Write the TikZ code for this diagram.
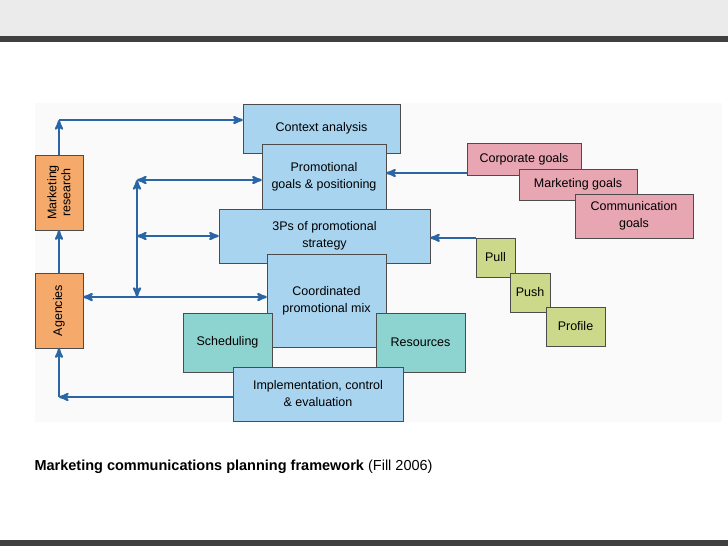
\documentclass[tikz,border=0pt]{standalone}
\usepackage{fontspec}
\setmainfont{Liberation Sans}
\usepackage{xcolor}
\usepackage{tikz}
\usetikzlibrary{arrows}
\definecolor{arrblue}{HTML}{2A66A6}
\definecolor{boxblue}{HTML}{A8D4F0}
\definecolor{boxorange}{HTML}{F5A96A}
\definecolor{boxteal}{HTML}{8DD3CF}
\definecolor{boxpink}{HTML}{E8A6B2}
\definecolor{boxgreen}{HTML}{CDD98A}
\tikzstyle{blk_b} = [rectangle, draw=black!70, fill=boxblue, align=center, inner sep=0pt, font=\fontsize{12.5}{17}\selectfont]
\tikzstyle{blk_o} = [rectangle, draw=black!70, fill=boxorange, align=center, inner sep=0pt, font=\fontsize{12.5}{14}\selectfont, rotate=90]
\tikzstyle{blk_t} = [rectangle, draw=black!70, fill=boxteal, align=center, inner sep=0pt, font=\fontsize{12.5}{17}\selectfont]
\tikzstyle{blk_p} = [rectangle, draw=black!70, fill=boxpink, align=center, inner sep=0pt, font=\fontsize{12.5}{17}\selectfont]
\tikzstyle{blk_g} = [rectangle, draw=black!70, fill=boxgreen, align=center, inner sep=0pt, font=\fontsize{12.5}{17}\selectfont]
\tikzstyle{lnk} = [draw=arrblue, line width=2.2pt, >=stealth']
\begin{document}
\begin{tikzpicture}[x=1pt,y=-1pt]
\useasboundingbox (0,0) rectangle (728,546);
\fill[black!8] (0,0) rectangle (728,36);
\fill[black!75] (0,36) rectangle (728,42);
\fill[black!75] (0,540) rectangle (728,546);
\fill[black!2] (35,103) rectangle (722,422);
% main column
\node [blk_b, minimum width=157pt, minimum height=49pt, name=ctx] at (321.5,128.5) {Context analysis};
\node [blk_b, minimum width=124pt, minimum height=65pt, name=goals] at (324,176.5) {Promotional\\goals \& positioning};
\node [blk_b, minimum width=211pt, minimum height=54pt, name=strat] at (324.5,236) {3Ps of promotional\\strategy};
\node [blk_b, minimum width=119pt, minimum height=93pt, name=mix] at (326.5,300.5) {Coordinated\\promotional mix};
\node [blk_t, minimum width=89pt, minimum height=59pt, name=sched] at (227.5,342.5) {Scheduling};
\node [blk_t, minimum width=89pt, minimum height=59pt, name=res] at (420.5,342.5) {Resources};
\node [blk_b, minimum width=170pt, minimum height=54pt, name=impl] at (318,394) {Implementation, control\\\& evaluation};
% left side
\node [blk_o, minimum width=75pt, minimum height=48pt, name=mres] at (59,192.5) {Marketing\\research};
\node [blk_o, minimum width=75pt, minimum height=48pt, name=agen] at (59,310.5) {Agencies};
% right side
\node [blk_p, minimum width=114pt, minimum height=32pt, name=corp] at (524,159) {Corporate goals};
\node [blk_p, minimum width=118pt, minimum height=31pt, name=mktg] at (578,184.5) {Marketing goals};
\node [blk_p, minimum width=118pt, minimum height=44pt, name=comm] at (634,216) {Communication\\goals};
\node [blk_g, minimum width=39pt, minimum height=39pt, name=pull] at (495.5,257.5) {Pull};
\node [blk_g, minimum width=40pt, minimum height=39pt, name=push] at (530,292.5) {Push};
\node [blk_g, minimum width=59pt, minimum height=39pt, name=prof] at (575.5,326.5) {Profile};
% connectors
\coordinate (c_top) at (59,120);
\coordinate (c_bot) at (59,397);
\coordinate (v_top) at (137,180);
\coordinate (v_mid) at (137,236);
\coordinate (v_bot) at (137,297);
\draw [lnk,->] (mres.east) -- (c_top);
\draw [lnk,->] (c_top) -- (ctx.west |- c_top);
\draw [lnk,->] (agen.east) -- (mres.west);
\draw [lnk,->] (impl.west |- c_bot) -- (c_bot);
\draw [lnk,->] (c_bot) -- (agen.west);
\draw [lnk,<->] (v_top) -- (v_bot);
\draw [lnk,<->] (v_top) -- (goals.west |- v_top);
\draw [lnk,<->] (v_mid) -- (strat.west |- v_mid);
\draw [lnk,<->] (agen.south |- v_bot) -- (mix.west |- v_bot);
\draw [lnk,->] (corp.west |- 0,173) -- (goals.east |- 0,173);
\draw [lnk,->] (pull.north west) -- (strat.east |- pull.north west);
% caption
\node [anchor=west, font=\fontsize{14.5}{17}\selectfont, name=cap] at (31,467) {\textbf{Marketing communications planning framework} (Fill 2006)};
\end{tikzpicture}
\end{document}
